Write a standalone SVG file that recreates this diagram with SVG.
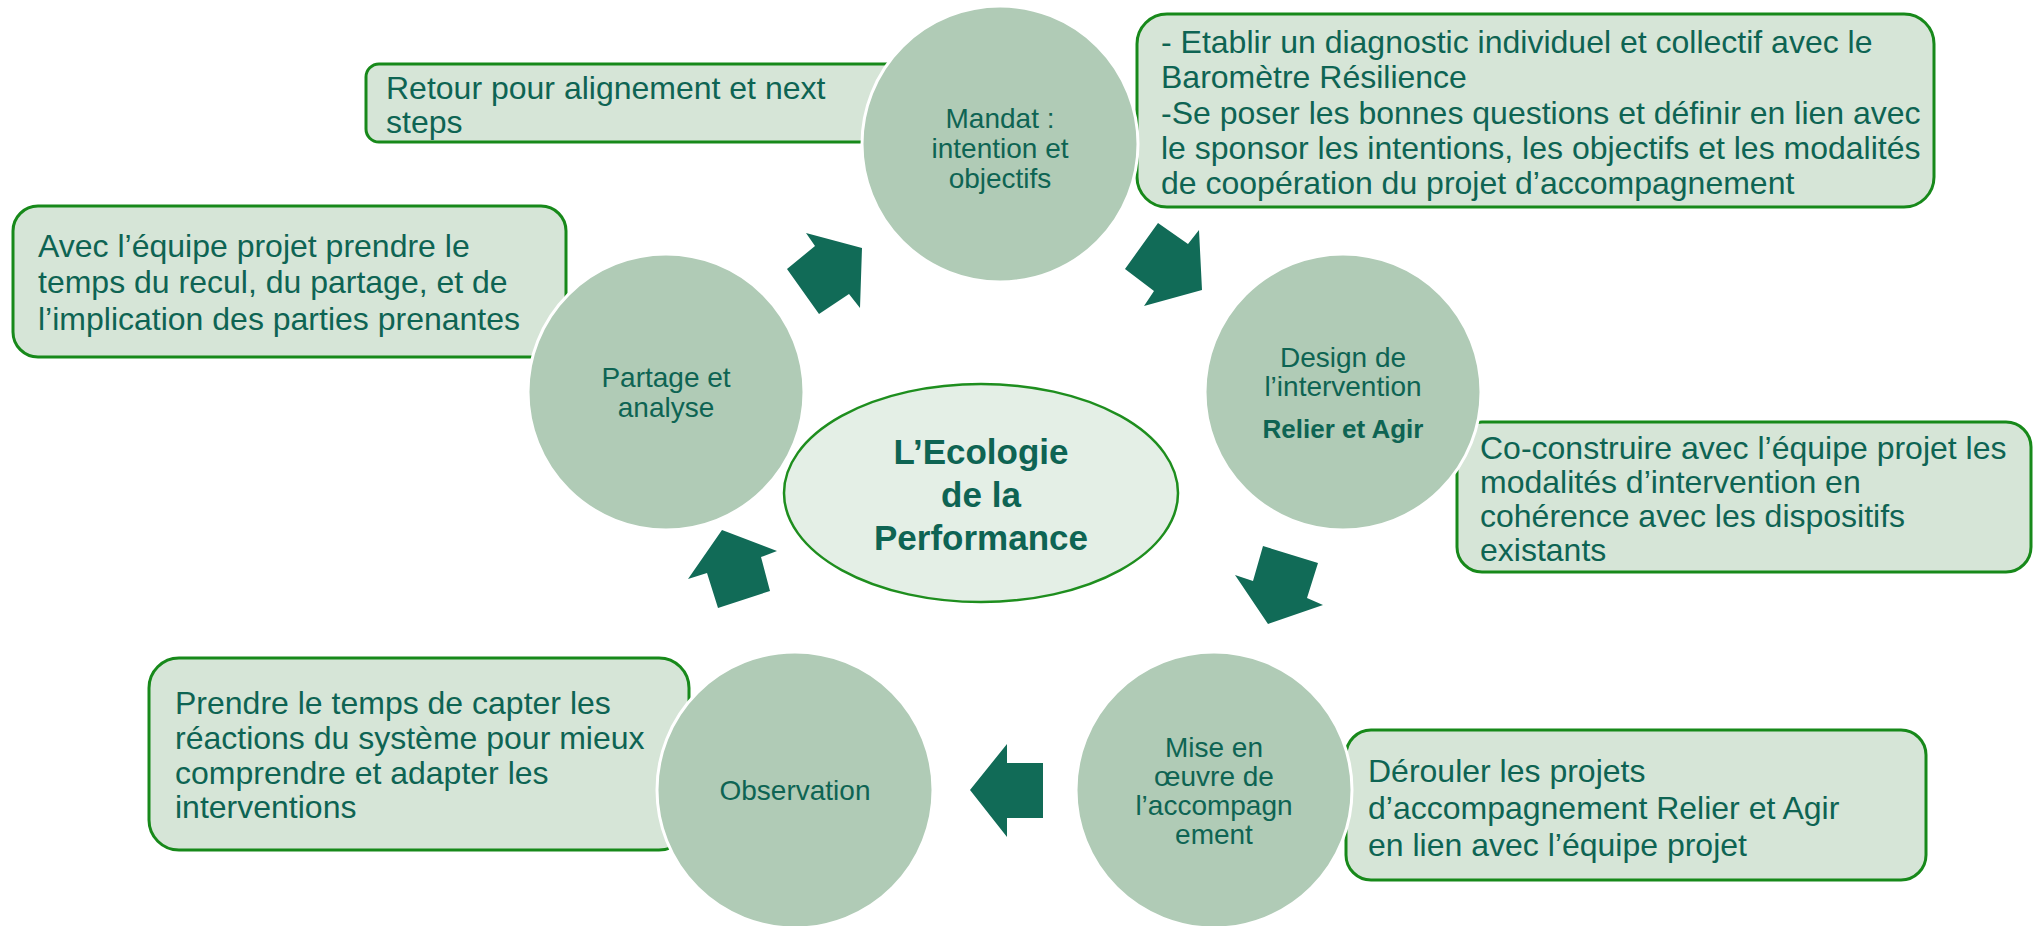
<svg xmlns="http://www.w3.org/2000/svg" width="2034" height="926" viewBox="0 0 2034 926">
  <style>
    .box { fill: #D6E5D7; stroke: #17891A; stroke-width: 3; }
    .step { fill: #B0CBB6; stroke: #FFFFFF; stroke-width: 3; }
    .core { fill: #E4EFE6; stroke: #1E8E1E; stroke-width: 2.5; }
    .arrow { fill: #116B57; }
    text { font-family: "Liberation Sans", Arial, sans-serif; fill: #0E6453; }
    .note { font-size: 32px; }
    .label { font-size: 28px; text-anchor: middle; }
    .label-bold { font-size: 26px; font-weight: bold; text-anchor: middle; }
    .title { font-size: 35px; font-weight: bold; text-anchor: middle; }
  </style>

  <rect width="2034" height="926" fill="#FFFFFF"/>

  <!-- Description boxes (drawn first, the step circles sit over them) -->
  <g id="box-retour">
    <rect class="box" x="366" y="64" width="540" height="78" rx="13"/>
    <text class="note" x="386" y="99">Retour pour alignement et next</text>
    <text class="note" x="386" y="133">steps</text>
  </g>

  <g id="box-mandat">
    <rect class="box" x="1137" y="14" width="797" height="193" rx="30"/>
    <text class="note" x="1161" y="53">- Etablir un diagnostic individuel et collectif avec le</text>
    <text class="note" x="1161" y="88">Baromètre Résilience</text>
    <text class="note" x="1161" y="124">-Se poser les bonnes questions et définir en lien avec</text>
    <text class="note" x="1161" y="159">le sponsor les intentions, les objectifs et les modalités</text>
    <text class="note" x="1161" y="194">de coopération du projet d’accompagnement</text>
  </g>

  <g id="box-partage">
    <rect class="box" x="13" y="206" width="553" height="151" rx="25"/>
    <text class="note" x="38" y="257">Avec l’équipe projet prendre le</text>
    <text class="note" x="38" y="293">temps du recul, du partage, et de</text>
    <text class="note" x="38" y="330">l’implication des parties prenantes</text>
  </g>

  <g id="box-design">
    <rect class="box" x="1457" y="422" width="574" height="150" rx="25"/>
    <text class="note" x="1480" y="459">Co-construire avec l’équipe projet les</text>
    <text class="note" x="1480" y="493">modalités d’intervention en</text>
    <text class="note" x="1480" y="527">cohérence avec les dispositifs</text>
    <text class="note" x="1480" y="561">existants</text>
  </g>

  <g id="box-observation">
    <rect class="box" x="149" y="658" width="540" height="192" rx="30"/>
    <text class="note" x="175" y="714">Prendre le temps de capter les</text>
    <text class="note" x="175" y="749">réactions du système pour mieux</text>
    <text class="note" x="175" y="784">comprendre et adapter les</text>
    <text class="note" x="175" y="818">interventions</text>
  </g>

  <g id="box-mise">
    <rect class="box" x="1346" y="730" width="580" height="150" rx="25"/>
    <text class="note" x="1368" y="782">Dérouler les projets</text>
    <text class="note" x="1368" y="819">d’accompagnement Relier et Agir</text>
    <text class="note" x="1368" y="856">en lien avec l’équipe projet</text>
  </g>

  <!-- Cycle steps -->
  <g id="step-mandat">
    <circle class="step" cx="1000" cy="144" r="138"/>
    <text class="label" x="1000" y="128">Mandat :</text>
    <text class="label" x="1000" y="158">intention et</text>
    <text class="label" x="1000" y="188">objectifs</text>
  </g>

  <g id="step-design">
    <circle class="step" cx="1343" cy="392" r="138"/>
    <text class="label" x="1343" y="367">Design de</text>
    <text class="label" x="1343" y="396">l’intervention</text>
    <text class="label-bold" x="1343" y="438">Relier et Agir</text>
  </g>

  <g id="step-mise">
    <circle class="step" cx="1214" cy="790" r="138"/>
    <text class="label" x="1214" y="757">Mise en</text>
    <text class="label" x="1214" y="786">œuvre de</text>
    <text class="label" x="1214" y="815">l’accompagn</text>
    <text class="label" x="1214" y="844">ement</text>
  </g>

  <g id="step-observation">
    <circle class="step" cx="795" cy="790" r="138"/>
    <text class="label" x="795" y="800">Observation</text>
  </g>

  <g id="step-partage">
    <circle class="step" cx="666" cy="392" r="138"/>
    <text class="label" x="666" y="387">Partage et</text>
    <text class="label" x="666" y="417">analyse</text>
  </g>

  <!-- Centre -->
  <g id="centre">
    <ellipse class="core" cx="981" cy="493" rx="197" ry="109"/>
    <text class="title" x="981" y="464">L’Ecologie</text>
    <text class="title" x="981" y="507">de la</text>
    <text class="title" x="981" y="550">Performance</text>
  </g>

  <!-- Block arrows between the steps -->
  <g id="connectors">
    <polygon class="arrow" points="787,269 815,246 806,233 862,248 860,308 849,294 819,314"/>
    <polygon class="arrow" points="1158,223 1188,244 1199,230 1202,290 1144,306 1154,291 1125,269"/>
    <polygon class="arrow" points="1263,546 1318,563 1307,598 1323,605 1268,624 1235,575 1253,581"/>
    <polygon class="arrow" points="970,790 1007,744 1007,763 1043,763 1043,818 1007,818 1007,837"/>
    <polygon class="arrow" points="722,530 777,551 761,557 770,591 718,608 707,573 688,579"/>
  </g>
</svg>
